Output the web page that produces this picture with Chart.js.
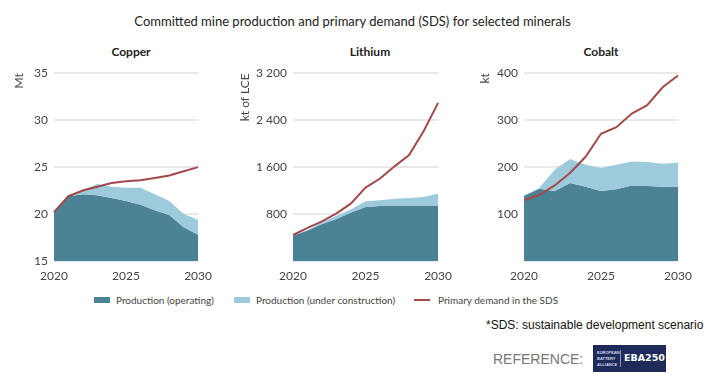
<!DOCTYPE html>
<html>
<head>
<meta charset="utf-8">
<script src="https://cdn.jsdelivr.net/npm/chart.js@4"></script>
<style>
  body { margin: 0; width: 705px; height: 376px; background: #fff; position: relative; overflow: hidden; font-family: Lato, sans-serif; }
  .box { position: absolute; top: 60px; height: 232px; }
  .ttl { position: absolute; top: 44px; font-size: 12px; color: #222; text-align: center; font-weight: bold; }
  #main { position: absolute; top: 13px; left: 0; width: 705px; text-align: center; font-size: 13px; color: #222; }
  .leg { position: absolute; top: 294px; font-size: 10px; color: #444; white-space: nowrap; }
  .sw { display: inline-block; width: 16px; height: 6px; vertical-align: middle; margin-right: 6px; position: relative; top: -1px; }
  .ln { display: inline-block; width: 16px; height: 2px; background: #a24a4a; vertical-align: middle; margin-right: 8px; position: relative; top: -1px; }
  #note { position: absolute; left: 486px; top: 318px; font-family: "Liberation Sans", Arial, sans-serif; font-size: 12px; color: #111; white-space: nowrap; }
  #ref { position: absolute; left: 493px; top: 351px; font-family: "Liberation Sans", Arial, sans-serif; font-size: 14px; color: #777; }
  #logo { position: absolute; left: 593px; top: 345px; width: 73px; height: 27px; background: #1e2b5a; }
  #logo .s { position: absolute; left: 4px; top: 5px; font-family: "Liberation Sans", Arial, sans-serif; font-size: 4px; line-height: 6px; color: #cfd8e8; font-weight: bold; }
  #logo .bar { position: absolute; left: 27px; top: 5px; width: 1px; height: 17px; background: #8a96b8; }
  #logo .b { position: absolute; left: 31px; top: 7px; font-family: "DejaVu Sans", sans-serif; font-weight: bold; font-size: 9.5px; color: #fff; }
</style>
</head>
<body>
<div id="main">Committed mine production and primary demand (SDS) for selected minerals</div>

<div class="ttl" style="left:54px;width:154px">Copper</div>
<div class="ttl" style="left:293px;width:154px">Lithium</div>
<div class="ttl" style="left:524px;width:154px">Cobalt</div>

<div class="box" style="left:0;width:220px"><canvas id="copper"></canvas></div>
<div class="box" style="left:230px;width:230px"><canvas id="lithium"></canvas></div>
<div class="box" style="left:460px;width:245px"><canvas id="cobalt"></canvas></div>

<div class="leg" style="left:94px"><span class="sw" style="background:#4b8295"></span>Production (operating)</div>
<div class="leg" style="left:234px"><span class="sw" style="background:#9ecbdb"></span>Production (under construction)</div>
<div class="leg" style="left:414px"><span class="ln"></span>Primary demand in the SDS</div>

<div id="note">*SDS: sustainable development scenario</div>
<div id="ref">REFERENCE:</div>
<div id="logo"><div class="s">EUROPEAN<br>BATTERY<br>ALLIANCE</div><div class="bar"></div><div class="b">EBA250</div></div>

<script>
// annees
const years = [2020, 2021, 2022, 2023, 2024, 2025, 2026, 2027, 2028, 2029, 2030];

// Copper (Mt)
const copperOperating = [20.2, 21.9, 22.1, 22.0, 21.7, 21.4, 21.0, 20.4, 19.9, 18.6, 17.8];
const copperWithConstruction = [20.2, 21.9, 22.6, 23.2, 22.9, 22.8, 22.8, 22.1, 21.4, 20.0, 19.4];
const copperDemand = [20.2, 21.9, 22.5, 22.9, 23.3, 23.5, 23.6, 23.85, 24.1, 24.55, 25.0];

// Lithium (kt of LCE)
const lithiumOperating = [430, 520, 630, 715, 825, 920, 937, 937, 937, 937, 937];
const lithiumWithConstruction = [430, 530, 660, 770, 880, 1020, 1035, 1060, 1075, 1090, 1145];
const lithiumDemand = [443, 564, 674, 811, 981, 1250, 1405, 1613, 1805, 2211, 2695];

// Cobalt (kt)
const cobaltOperating = [139, 154, 149, 166, 158, 149, 153, 161, 160, 158, 158];
const cobaltWithConstruction = [139, 156, 195, 217, 205, 198, 205, 212, 211, 207, 209];
const cobaltDemand = [129, 141, 161, 188, 222, 271, 285, 314, 332, 370, 395];

const darkCol = '#4b8295';
const lightCol = '#9ecbdb';
const lineCol = '#a24a4a';
const tickFont = { family: 'Lato', size: 12 };

function makeChart(id, op, tot, dem, yOpts) {
    const ctx = document.getElementById(id).getContext('2d');
    return new Chart(ctx, {
        type: 'line',
        data: {
            labels: years,
            datasets: [
                { data: dem, borderColor: lineCol, borderWidth: 2, pointRadius: 0, fill: false, order: 0 },
                { data: tot, borderWidth: 0, borderColor: lightCol, backgroundColor: lightCol, pointRadius: 0, fill: '+1', order: 1 },
                { data: op, borderWidth: 0, borderColor: darkCol, backgroundColor: darkCol, pointRadius: 0, fill: 'origin', order: 2 }
            ]
        },
        options: {
            responsive: true,
            maintainAspectRatio: false,
            animation: false,
            layout: { padding: { left: yOpts.padLeft, right: yOpts.padRight, top: 9, bottom: 0 } },
            plugins: { legend: { display: false }, tooltip: { enabled: false } },
            scales: {
                x: {
                    grid: { display: false, drawTicks: false },
                    border: { display: false },
                    ticks: {
                        font: tickFont, color: '#444', padding: 8, autoSkip: false, maxRotation: 0,
                        callback: function (v, i) { const y = years[i]; return (y % 5 === 0) ? String(y) : ''; }
                    },
                    afterFit: s => { s.height = 31; }
                },
                y: {
                    min: yOpts.min, max: yOpts.max,
                    border: { display: false },
                    grid: { color: '#e8e8e8', lineWidth: 2, drawTicks: false },
                    ticks: {
                        stepSize: yOpts.step, font: tickFont, color: '#444', padding: 6,
                        callback: yOpts.fmt
                    },
                    title: { display: true, text: yOpts.unit, align: 'end', color: '#444', font: { family: 'Lato', size: 12 }, padding: { top: 4, bottom: 0 } },
                    afterFit: s => { s.width = yOpts.width; }
                }
            }
        }
    });
}

makeChart('copper', copperOperating, copperWithConstruction, copperDemand,
    { min: 15, max: 35, step: 5, unit: 'Mt', padLeft: 8, padRight: 12, width: 46, fmt: v => String(v) });
makeChart('lithium', lithiumOperating, lithiumWithConstruction, lithiumDemand,
    { min: 0, max: 3200, step: 800, unit: 'kt of LCE', padLeft: 4, padRight: 13, width: 59,
      fmt: v => v === 0 ? '' : (v >= 1000 ? Math.floor(v / 1000) + ' ' + String(v % 1000).padStart(3, '0') : String(v)) });
makeChart('cobalt', cobaltOperating, cobaltWithConstruction, cobaltDemand,
    { min: 0, max: 400, step: 100, unit: 'kt', padLeft: 14, padRight: 27, width: 50, fmt: v => v === 0 ? '' : String(v) });
</script>
</body>
</html>
